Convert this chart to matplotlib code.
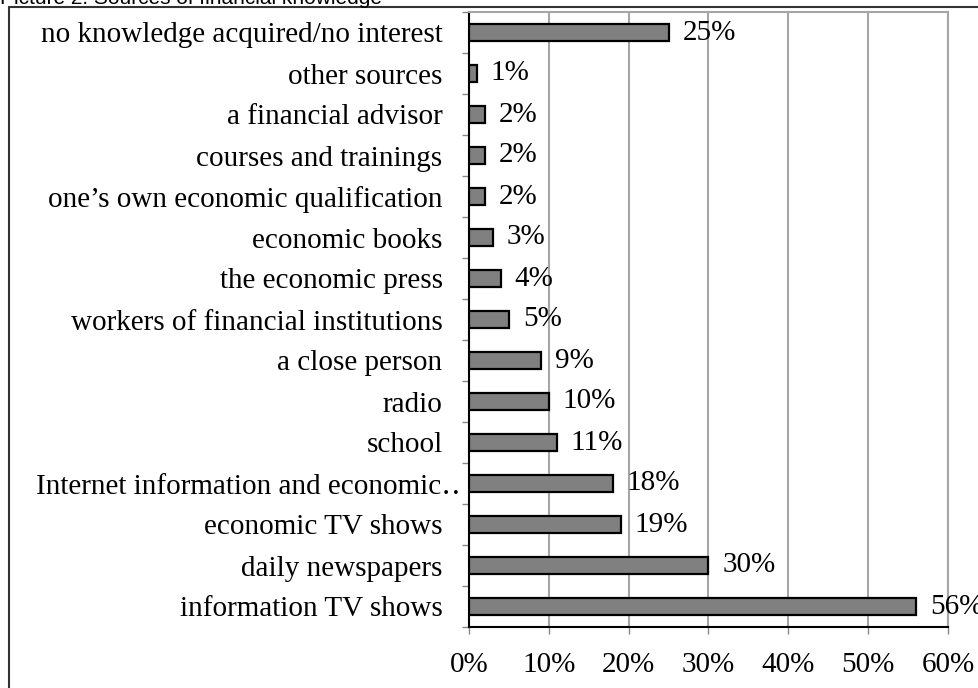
import numpy as np
import matplotlib.pyplot as plt
from matplotlib.patches import Rectangle
from matplotlib.transforms import ScaledTranslation

# sources, listed bottom to top
sources = ["information TV shows", "daily newspapers", "economic TV shows",
           "Internet information and economic\u2025", "school", "radio",
           "a close person", "workers of financial institutions",
           "the economic press", "economic books",
           "one\u2019s own economic qualification", "courses and trainings",
           "a financial advisor", "other sources",
           "no knowledge acquired/no interest"]
shares = [56, 30, 19, 18, 11, 10, 9, 5, 4, 3, 2, 2, 2, 1, 25]
xticks = [0, 10, 20, 30, 40, 50, 60]

plt.rcParams['font.family'] = ['Liberation Serif', 'DejaVu Serif']
fs = 21

fig = plt.figure(figsize=(9.79, 6.88), dpi=100)
ax = fig.add_axes([469/979, 1 - 627/688, 479/979, 615/688])

y = np.arange(len(sources))
ax.barh(y, shares, height=0.4, color='#808080', edgecolor='black', linewidth=1.6, zorder=3)
for yi, v in zip(y, shares):
    ax.annotate(f"{v}%", (v, yi), xytext=(10, 0), textcoords='offset points',
                va='center', ha='left', fontsize=fs, zorder=4, annotation_clip=False)

ax.set_xlim(0, 60)
ax.set_ylim(-0.5, len(sources) - 0.5)
ax.set_xticks(xticks)
ax.set_xticklabels([f"{t}%" for t in xticks], fontsize=fs)
ax.set_yticks(y)
ax.set_yticklabels(sources, fontsize=fs)
ax.set_yticks(np.arange(-0.5, len(sources)), minor=True)
ax.tick_params(axis='y', which='major', length=0, pad=19)
ax.tick_params(axis='y', which='minor', length=5, width=1, color='#888888', direction='out')
ax.tick_params(axis='x', which='major', length=5, width=1, color='#888888', pad=13)
ax.xaxis.grid(True, color='#a6a6a6', linewidth=1.5, zorder=0)
ax.set_axisbelow(True)
for s in ['top', 'right']:
    ax.spines[s].set_color('#a6a6a6')
    ax.spines[s].set_linewidth(1.5)
for s in ['left', 'bottom']:
    ax.spines[s].set_color('black')
    ax.spines[s].set_linewidth(1.5)

# the truncated label runs past the others, like in the original
for lab in ax.get_yticklabels():
    if lab.get_text().endswith("\u2025"):
        lab.set_transform(lab.get_transform() + ScaledTranslation(0.18, 0, fig.dpi_scale_trans))

# outer frame, running off the right and bottom edges
fig.patches.append(Rectangle((9/979, -0.1), 1.2, (688 - 7)/688 + 0.1, transform=fig.transFigure,
                             fill=False, edgecolor='#333333', linewidth=1.5, clip_on=False))
fig.text(0.0, 1 - 4/688, "Picture 2. Sources of financial knowledge", family='Liberation Sans',
         fontsize=15, ha='left', va='baseline')

fig.savefig("out.png", dpi=100)
